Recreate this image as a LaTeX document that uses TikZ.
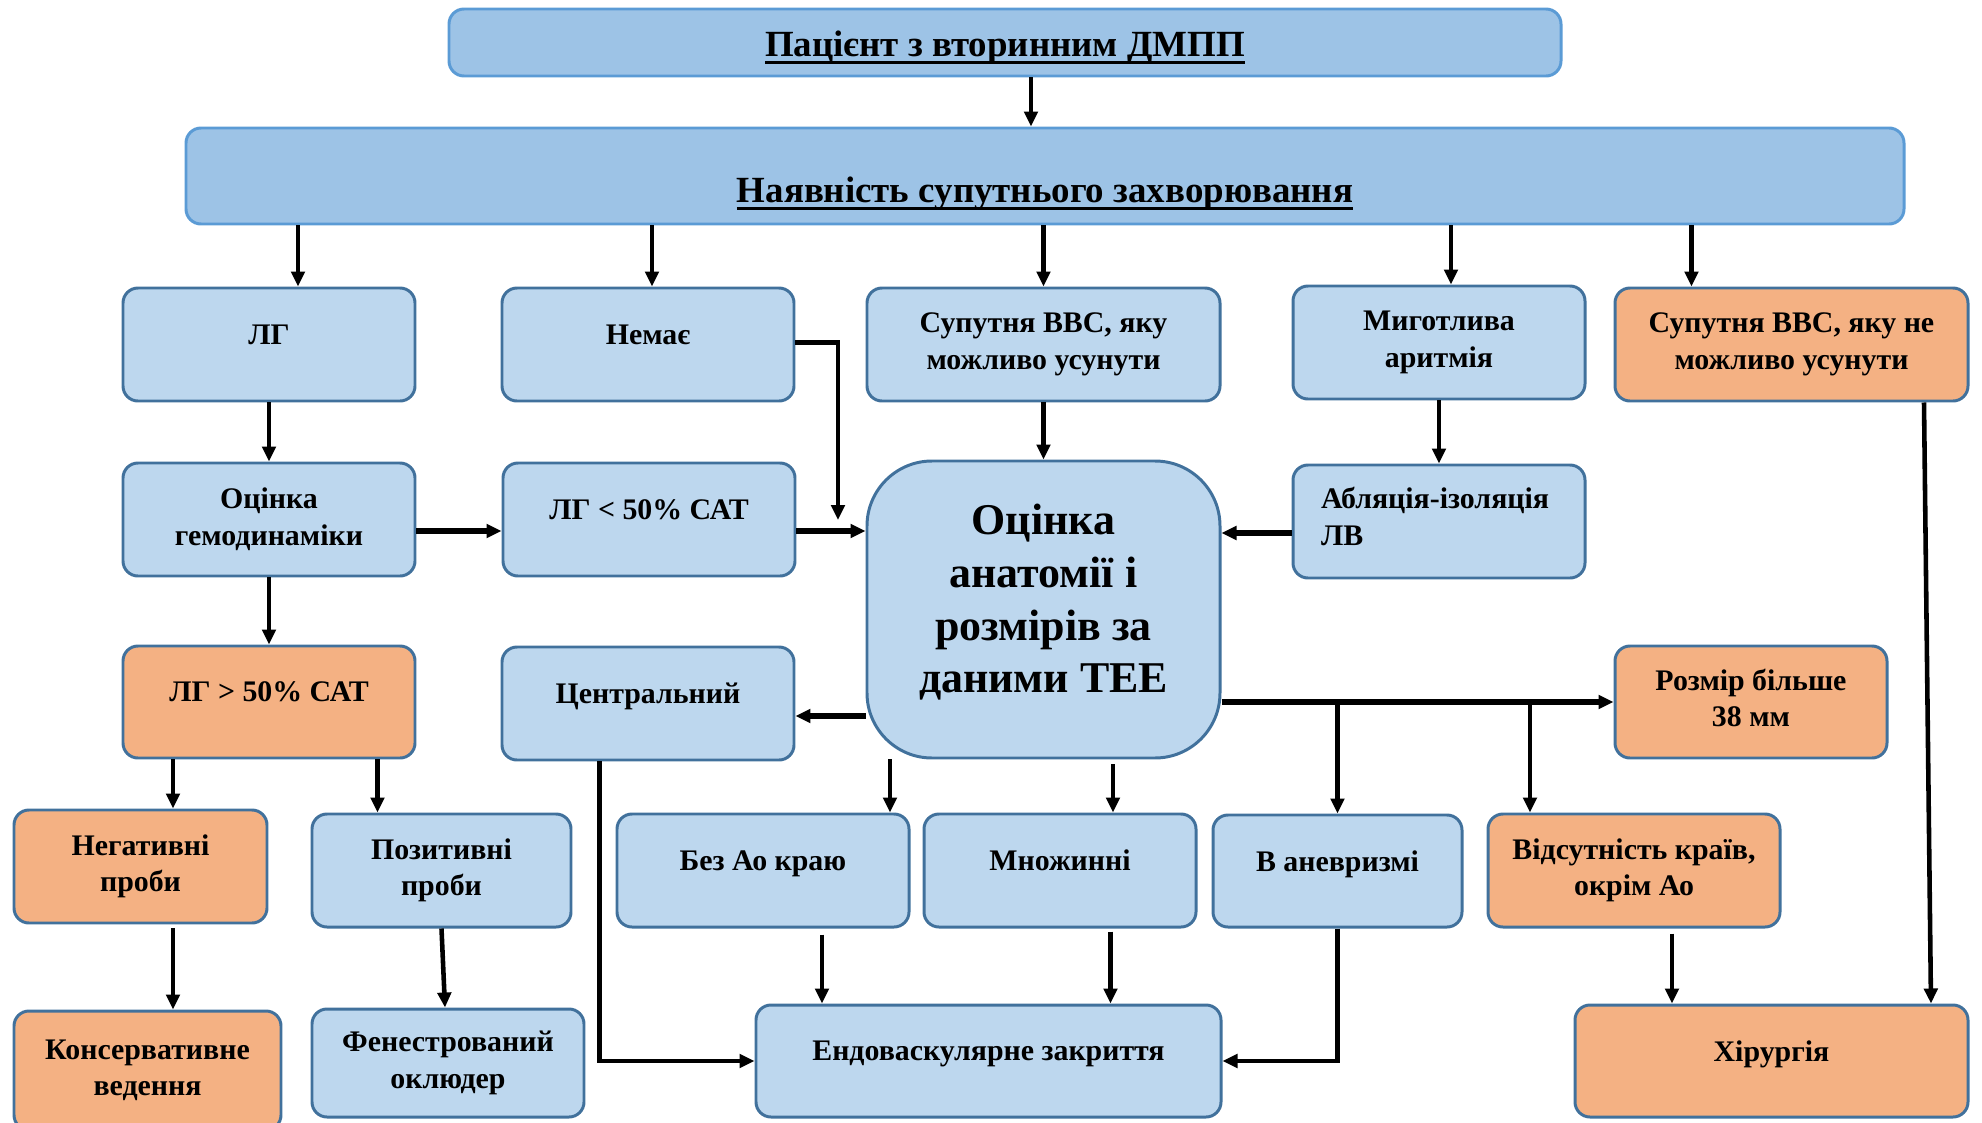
\documentclass[tikz,border=0pt]{standalone}
\usepackage{fontspec}
\setmainfont{Liberation Serif}
\usetikzlibrary{arrows.meta}

\definecolor{headfill}{HTML}{9DC3E6}
\definecolor{headline}{HTML}{5B9BD5}
\definecolor{boxfill}{HTML}{BDD7EE}
\definecolor{boxline}{HTML}{41719C}
\definecolor{warnfill}{HTML}{F4B183}

% thick underline for the two headings
\newcommand{\thickul}[1]{\setbox0=\hbox{#1}\leavevmode\rlap{\rule[-2.2pt]{\wd0}{0.9pt}}\box0}

\tikzset{
  box/.style={draw=boxline, fill=boxfill, line width=0.85pt, rounded corners=0.15cm,
    align=center, minimum width=2.92cm, minimum height=1.13cm, inner sep=0.08cm},
  warn/.style={box, fill=warnfill},
  head/.style={box, draw=headline, fill=headfill, font=\fontsize{10.5}{12}\selectfont\bfseries},
  lift/.style={text depth=0.2cm},
  arr/.style={-{Triangle[length=0.15cm,width=0.135cm]}, line width=1.3pt},
  wide/.style={arr, line width=1.7pt}
}

\begin{document}
\begin{tikzpicture}[font=\fontsize{8.5}{10.4}\selectfont\bfseries]
\useasboundingbox (0,0) rectangle (19.82,-11.23);

\node[head, minimum width=11.12cm, minimum height=0.67cm, text height=0.36cm] (pat) at (10.05,-0.425) {\thickul{Пацієнт з вторинним ДМПП}};
\node[head, minimum width=17.18cm, minimum height=0.96cm, text height=0.6cm] (conc) at (10.45,-1.76) {\thickul{Наявність супутнього захворювання}};

% row 1
\node[box, lift] (lg) at (2.69,-3.445) {ЛГ};
\node[box, lift] (nemae) at (6.48,-3.445) {Немає};
\node[box, minimum width=3.53cm] (vvs) at (10.435,-3.445) {Супутня ВВС, яку\\можливо усунути};
\node[box] (aryt) at (14.39,-3.425) {Миготлива\\аритмія};
\node[warn, minimum width=3.53cm] (vvsno) at (17.915,-3.445) {Супутня ВВС, яку не\\можливо усунути};

% row 2
\node[box] (hemo) at (2.69,-5.195) {Оцінка\\гемодинаміки};
\node[box, lift] (lgless) at (6.49,-5.195) {ЛГ < 50\% САТ};
\node[box, minimum width=3.53cm, minimum height=2.97cm, rounded corners=0.65cm, text depth=0.22cm,
  font=\fontsize{12.5}{15}\selectfont\bfseries] (tee) at (10.435,-6.095) {Оцінка\\анатомії і\\розмірів за\\даними ТЕЕ};
\node[box, align=left, text width=2.36cm, inner xsep=0.28cm, text depth=0.47cm] (abl) at (14.39,-5.215) {Абляція-ізоляція\\ЛВ};

% row 3
\node[warn, lift, minimum height=1.12cm] (lgmore) at (2.69,-7.02) {ЛГ > 50\% САТ};
\node[box, lift] (centr) at (6.48,-7.035) {Центральний};
\node[warn, minimum width=2.72cm, minimum height=1.12cm, text depth=0.08cm] (size) at (17.51,-7.02) {Розмір більше\\38 мм};

% row 4
\node[warn, minimum width=2.53cm] (neg) at (1.405,-8.665) {Негативні\\проби};
\node[box, minimum width=2.59cm] (pos) at (4.415,-8.705) {Позитивні\\проби};
\node[box, lift] (noao) at (7.63,-8.705) {Без Ао краю};
\node[box, lift, minimum width=2.72cm] (mult) at (10.60,-8.705) {Множинні};
\node[box, lift, minimum width=2.49cm, minimum height=1.12cm] (aneur) at (13.375,-8.71) {В аневризмі};
\node[warn] (absent) at (16.34,-8.705) {Відсутність країв,\\окрім Ао};

% row 5
\node[warn, minimum width=2.67cm, minimum height=1.19cm] (cons) at (1.475,-10.705) {Консервативне\\ведення};
\node[box, minimum width=2.72cm, minimum height=1.08cm] (fen) at (4.48,-10.63) {Фенестрований\\оклюдер};
\node[box, lift, minimum width=4.65cm, minimum height=1.12cm] (endo) at (9.885,-10.61) {Ендоваскулярне закриття};
\node[warn, lift, minimum width=3.93cm, minimum height=1.12cm] (surg) at (17.715,-10.61) {Хірургія};

% connectors
\draw[arr] ([xshift=2.6mm]pat.south) -- ([xshift=2.6mm]pat.south |- conc.north);
\draw[arr] ([xshift=2.9mm]lg.north |- conc.south) -- ([xshift=2.9mm]lg.north);
\draw[arr] ([xshift=0.4mm]nemae.north |- conc.south) -- ([xshift=0.4mm]nemae.north);
\draw[arr] (vvs.north |- conc.south) -- (vvs.north);
\draw[arr] ([xshift=1.2mm]aryt.north |- conc.south) -- ([xshift=1.2mm]aryt.north);
\draw[arr] ([xshift=-10mm]vvsno.north |- conc.south) -- ([xshift=-10mm]vvsno.north);

\draw[arr] (lg) -- (hemo);
\draw[wide] ([yshift=-1.15mm]hemo.east) -- ([yshift=-1.15mm]hemo.east -| lgless.west);
\coordinate (nemaeend) at (8.38,-5.20);
\draw[arr] ([yshift=0.2mm]nemae.east) -| (nemaeend);
\draw[wide] ([yshift=-1.15mm]lgless.east) -- ([yshift=-1.15mm]lgless.east -| tee.west);
\draw[arr] (vvs) -- (tee);
\draw[arr] (aryt) -- (abl);
\draw[wide] ([yshift=-1.15mm]abl.west) -- ([yshift=-1.15mm]abl.west -| tee.east);

\draw[arr] (hemo) -- (lgmore);
\draw[arr] ([xshift=-9.6mm]lgmore.south) -- ([xshift=-9.6mm]lgmore.south |- neg.north);
\draw[arr] ([xshift=10.85mm]lgmore.south) -- ([xshift=10.85mm]lgmore.south |- pos.north);
\draw[arr] ([xshift=3.25mm,yshift=-0.4mm]neg.south) -- ([xshift=3.25mm]neg.south |- cons.north);
\draw[arr] (pos.south) -- ([xshift=-0.3mm]fen.north);

\draw[wide] ([yshift=-10.65mm]tee.west) -- ([yshift=-10.65mm]tee.west -| centr.east);
\draw[arr] ([xshift=-4.85mm]centr.south) |- (endo.west);
\draw[wide] (tee.east |- size.west) -- (size.west);
\draw[arr] (aneur.north |- size.west) -- (aneur.north);
\draw[arr] ([xshift=-10.4mm]absent.north |- size.west) -- ([xshift=-10.4mm]absent.north);

\draw[arr] ([xshift=12.7mm]noao.north |- tee.south) -- ([xshift=12.7mm]noao.north);
\draw[arr] ([xshift=5.3mm,yshift=-0.5mm]mult.north |- tee.south) -- ([xshift=5.3mm]mult.north);
\draw[arr] ([xshift=-16.65mm,yshift=-0.6mm]endo.north |- noao.south) -- ([xshift=-16.65mm]endo.north);
\draw[arr] ([xshift=12.2mm,yshift=-0.3mm]endo.north |- mult.south) -- ([xshift=12.2mm]endo.north);
\draw[arr] (aneur.south) |- (endo.east);
\draw[arr] ([xshift=-9.95mm,yshift=-0.5mm]surg.north |- absent.south) -- ([xshift=-9.95mm]surg.north);
\draw[arr] ([xshift=13.25mm]vvsno.south) -- ([xshift=15.95mm]surg.north);
\end{tikzpicture}
\end{document}
